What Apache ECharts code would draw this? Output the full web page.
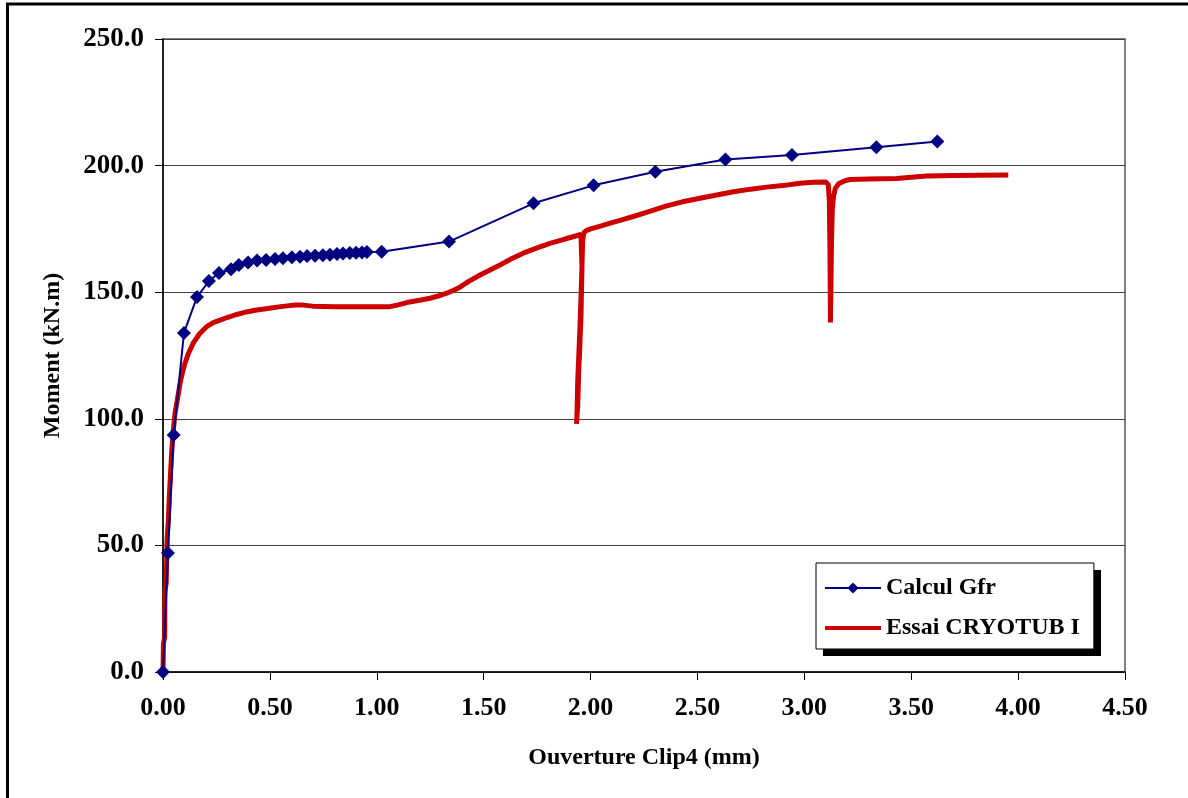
<!DOCTYPE html>
<html>
<head>
<meta charset="utf-8">
<script src="https://cdn.jsdelivr.net/npm/echarts@6/dist/echarts.min.js"></script>
<style>
html,body{margin:0;padding:0;background:#fff;}
#chart{width:1188px;height:798px;}
</style>
</head>
<body>
<div id="chart"></div>
<script>
// ---- Data ----
const xTicks = ['0.00','0.50','1.00','1.50','2.00','2.50','3.00','3.50','4.00','4.50'];
const yTicks = ['0.0','50.0','100.0','150.0','200.0','250.0'];

const calculX = [0, 0.023, 0.05, 0.098, 0.159, 0.215, 0.262, 0.318, 0.355, 0.398, 0.44, 0.482, 0.524, 0.561, 0.603, 0.641, 0.674, 0.711, 0.748, 0.781, 0.814, 0.842, 0.874, 0.903, 0.931, 0.954, 1.023, 1.338, 1.733, 2.014, 2.303, 2.631, 2.942, 3.337, 3.622];
const calculY = [0, 47.0, 93.6, 133.9, 148.1, 154.4, 157.6, 159.1, 160.7, 161.7, 162.5, 162.7, 163.1, 163.4, 163.8, 164.0, 164.3, 164.4, 164.6, 164.8, 165.1, 165.3, 165.5, 165.6, 165.7, 165.9, 166.0, 170.0, 185.1, 192.2, 197.6, 202.4, 204.2, 207.2, 209.5];

const essaiX = [0, 0.001, 0.002, 0.008, 0.009, 0.015, 0.019, 0.025, 0.03, 0.035, 0.04, 0.045, 0.05, 0.056, 0.064, 0.072, 0.08, 0.09, 0.103, 0.12, 0.142, 0.17, 0.204, 0.235, 0.267, 0.3, 0.345, 0.39, 0.438, 0.49, 0.532, 0.58, 0.62, 0.656, 0.7, 0.8, 0.9, 1.0, 1.062, 1.1, 1.14, 1.2, 1.249, 1.3, 1.327, 1.36, 1.389, 1.43, 1.483, 1.53, 1.576, 1.63, 1.685, 1.75, 1.81, 1.88, 1.93, 1.955,
  1.962, 1.96, 1.955, 1.948, 1.945, 1.94, 1.934, 1.936, 1.94, 1.95, 1.958, 1.963, 1.968, 1.98, 1.997, 2.05, 2.1, 2.15, 2.2, 2.28, 2.356, 2.43, 2.512, 2.59, 2.668, 2.75, 2.823, 2.9, 2.979, 3.042, 3.1,
  3.112, 3.117, 3.12, 3.122, 3.124, 3.127, 3.131, 3.137, 3.145, 3.16, 3.19, 3.213, 3.3, 3.432, 3.5, 3.572, 3.7, 3.82, 3.954];
const essaiY = [0, 5, 11, 14, 32, 35, 52, 60, 70, 78, 86, 92, 97, 102, 106, 110, 114, 118, 122, 126, 130, 133.5, 136.4, 138, 139, 140, 141.2, 142.2, 143, 143.6, 144.1, 144.6, 144.9, 144.9, 144.5, 144.3, 144.3, 144.3, 144.3, 145, 145.9, 146.8, 147.6, 148.8, 149.6, 150.8, 152, 154.3, 156.8, 158.8, 160.7, 163.2, 165.4, 167.5, 169.3, 171, 172.2, 172.8,
  172.5, 160, 140, 125, 120, 105, 98, 100, 115, 135, 155, 170, 173.5, 174.3, 174.9, 176.2, 177.5, 178.7, 179.9, 182, 184.1, 185.7, 187.1, 188.4, 189.7, 190.7, 191.5, 192.1, 193, 193.4, 193.5,
  192.5, 186, 165, 138, 150, 170, 183, 188, 191, 192.8, 194, 194.5, 194.7, 194.9, 195.4, 195.9, 196.1, 196.2, 196.3];

const seriesNames = ['Calcul Gfr', 'Essai CRYOTUB I'];

const zip = (a, b) => a.map((v, i) => [v, b[i]]);
const FONT = 'Liberation Serif';

const chart = echarts.init(document.getElementById('chart'), null, {renderer: 'canvas'});
chart.setOption({
  animation: false,
  backgroundColor: '#ffffff',
  graphic: [
    {
      type: 'rect', z: -10, silent: true,
      shape: {x: 7.5, y: 4, width: 1200, height: 820},
      style: {fill: 'none', stroke: '#000', lineWidth: 3}
    },
    {
      type: 'rect', z: 1, silent: true,
      shape: {x: 823, y: 570, width: 278, height: 86},
      style: {fill: '#000'}
    }
  ],
  grid: {
    left: 163, top: 39, right: 63, bottom: 126,
    show: true, borderColor: '#808080', borderWidth: 2, backgroundColor: 'transparent'
  },
  legend: {
    orient: 'vertical',
    left: 816, top: 563,
    width: 256,
    padding: [12, 14, 8, 8],
    itemGap: 14,
    itemWidth: 56, itemHeight: 14,
    backgroundColor: '#fff',
    borderColor: '#000', borderWidth: 1,
    textStyle: {fontFamily: FONT, fontWeight: 'bold', fontSize: 24, color: '#000', lineHeight: 26},
    data: [
      {name: seriesNames[0]},
      {name: seriesNames[1], icon: 'path://M0,0H56V4H0Z'}
    ]
  },
  xAxis: {
    type: 'value', min: 0, max: 4.5, interval: 0.5,
    name: 'Ouverture Clip4 (mm)', nameLocation: 'middle', nameGap: 74,
    nameTextStyle: {fontFamily: FONT, fontWeight: 'bold', fontSize: 24, color: '#000'},
    axisLine: {show: true, onZero: false, lineStyle: {color: '#000', width: 1.5}},
    axisTick: {show: true, inside: false, length: 8, lineStyle: {color: '#000'}},
    axisLabel: {
      margin: 23, fontFamily: FONT, fontWeight: 'bold', fontSize: 26, color: '#000',
      formatter: (v) => xTicks[Math.round(v / 0.5)]
    },
    splitLine: {show: false}
  },
  yAxis: {
    type: 'value', min: 0, max: 250, interval: 50,
    name: 'Moment (kN.m)', nameLocation: 'middle', nameGap: 98, nameRotate: 90,
    nameTextStyle: {fontFamily: FONT, fontWeight: 'bold', fontSize: 24, color: '#000'},
    axisLine: {show: true, lineStyle: {color: '#000', width: 1.5}},
    axisTick: {show: true, inside: false, length: 8, lineStyle: {color: '#000'}},
    axisLabel: {
      margin: 19, fontFamily: FONT, fontWeight: 'bold', fontSize: 27, color: '#000',
      formatter: (v) => yTicks[Math.round(v / 50)]
    },
    splitLine: {show: true, lineStyle: {color: '#404040', width: 1}}
  },
  series: [
    {
      name: seriesNames[0], type: 'line', z: 5,
      data: zip(calculX, calculY),
      symbol: 'diamond', symbolSize: 14, showSymbol: true,
      lineStyle: {color: '#000080', width: 2},
      itemStyle: {color: '#000080'}
    },
    {
      name: seriesNames[1], type: 'line', z: 3,
      data: zip(essaiX, essaiY),
      showSymbol: false, symbol: 'none',
      lineStyle: {color: '#CC0000', width: 5},
      itemStyle: {color: '#CC0000'}
    }
  ]
});
</script>
</body>
</html>
